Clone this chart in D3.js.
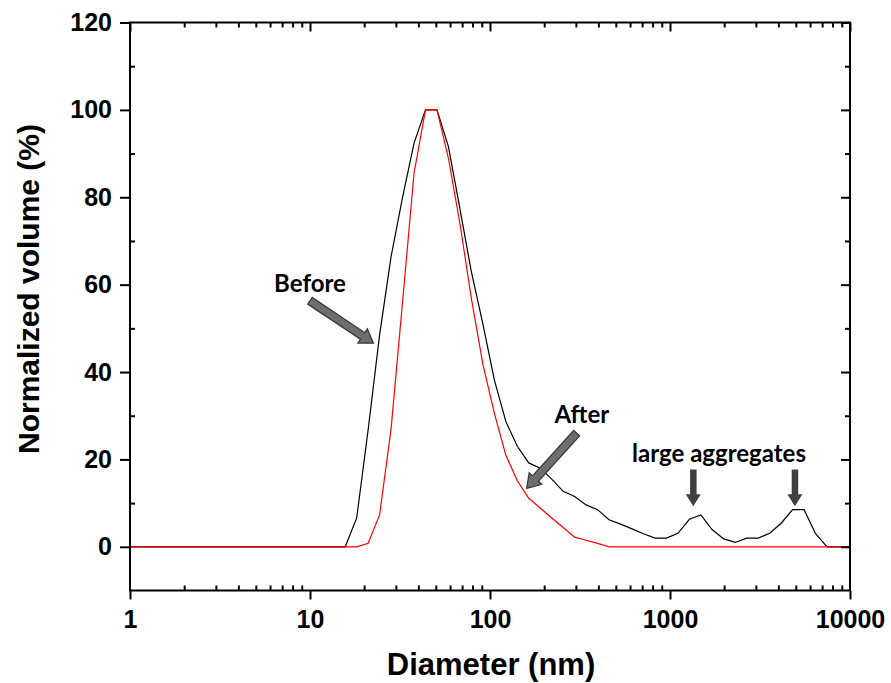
<!DOCTYPE html>
<html>
<head>
<meta charset="utf-8">
<script src="https://cdn.jsdelivr.net/npm/d3@7"></script>
<style>
  body { margin: 0; background: #fff; }
  svg { display: block; }
  .tick text { font-family: "Liberation Sans", Arial, sans-serif; font-weight: bold; font-size: 25px; fill: #000; }
</style>
</head>
<body>
<svg id="chart" width="891" height="683"></svg>
<script>
// size bins (nm) of the instrument
var diameters = [0.9649, 1.117, 1.294, 1.499, 1.736, 2.010, 2.328, 2.696, 3.122, 3.615,
  4.187, 4.849, 5.615, 6.503, 7.531, 8.721, 10.10, 11.70, 13.54, 15.69,
  18.17, 21.04, 24.36, 28.21, 32.67, 37.84, 43.82, 50.75, 58.77, 68.06,
  78.82, 91.28, 105.7, 122.4, 141.8, 164.2, 190.1, 220.2, 255.0, 295.3,
  342.0, 396.1, 458.7, 531.2, 615.1, 712.4, 825.0, 955.4, 1106, 1281,
  1484, 1718, 1990, 2305, 2669, 3091, 3580, 4145, 4801, 5560,
  6439, 7456, 8635, 10000]

var before = [0, 0, 0, 0, 0, 0, 0, 0, 0, 0,
  0, 0, 0, 0, 0, 0, 0, 0, 0, 0,
  6.6, 26.8, 48.5, 66.4, 80, 92.4, 100, 100, 91.6, 77.4,
  62.9, 51, 38.2, 28.7, 23.0, 19.2, 18, 15.5, 12.7, 11.5,
  9.6, 8.5, 6.2, 5.2, 4.1, 3.0, 2.0, 2.0, 3.1, 6.3,
  7.3, 3.9, 1.8, 1.0, 2.0, 2.0, 3.1, 5.4, 8.5, 8.5,
  3.0, 0, 0, 0]

var after = [0, 0, 0, 0, 0, 0, 0, 0, 0, 0,
  0, 0, 0, 0, 0, 0, 0, 0, 0, 0,
  0, 0.8, 7.3, 27, 56, 85.5, 100, 100, 88.9, 74,
  56.8, 41.8, 30.6, 21.0, 15.1, 11.1, 8.9, 6.6, 4.4, 2.2,
  1.5, 0.8, 0, 0, 0, 0, 0, 0, 0, 0,
  0, 0, 0, 0, 0, 0, 0, 0, 0, 0,
  0, 0, 0, 0]

var xMajor = [1, 10, 100, 1000, 10000]
var yMajor = [0, 20, 40, 60, 80, 100, 120]
var yMinor = [10, 30, 50, 70, 90, 110]

var svg = d3.select('#chart')
var mLeft = 130, mRight = 850, mTop = 22.5, mBottom = 590.5

var x = d3.scaleLog().domain([1, 10000]).range([mLeft, mRight])
var y = d3.scaleLinear().domain([-10, 120]).range([mBottom, mTop])

var xMinor = x.ticks().filter(function (d) { return xMajor.indexOf(d) < 0 })

svg.append('clipPath').attr('id', 'clip')
  .append('rect').attr('x', mLeft).attr('y', mTop).attr('width', mRight - mLeft).attr('height', mBottom - mTop)

var line = d3.line()
  .x(function (d) { return x(d[0]) })
  .y(function (d) { return y(d[1]) })

var plot = svg.append('g').attr('clip-path', 'url(#clip)')
plot.append('path')
  .datum(d3.zip(diameters, before))
  .attr('d', line)
  .attr('fill', 'none').attr('stroke', '#000').attr('stroke-width', 1.2)
plot.append('path')
  .datum(d3.zip(diameters, after))
  .attr('d', line)
  .attr('fill', 'none').attr('stroke', '#ff0000').attr('stroke-width', 1.2)

// axes
function styleAxis(g) {
  g.select('.domain').remove()
  g.selectAll('.tick line').attr('stroke', '#000').attr('stroke-width', 2)
}

svg.append('g').attr('transform', 'translate(0,' + mBottom + ')')
  .call(d3.axisBottom(x).tickValues(xMajor).tickSize(9).tickPadding(11).tickFormat(d3.format('d')))
  .call(styleAxis)
svg.append('g').attr('transform', 'translate(0,' + mBottom + ')')
  .call(d3.axisTop(x).tickValues(xMinor).tickSize(5).tickFormat(''))
  .call(styleAxis)
svg.append('g').attr('transform', 'translate(0,' + mTop + ')')
  .call(d3.axisBottom(x).tickValues(xMajor).tickSize(9).tickFormat(''))
  .call(styleAxis)
svg.append('g').attr('transform', 'translate(0,' + mTop + ')')
  .call(d3.axisBottom(x).tickValues(xMinor).tickSize(5).tickFormat(''))
  .call(styleAxis)

svg.append('g').attr('transform', 'translate(' + mLeft + ',0)')
  .call(d3.axisLeft(y).tickValues(yMajor).tickSize(10).tickPadding(8))
  .call(styleAxis)
svg.append('g').attr('transform', 'translate(' + mLeft + ',0)')
  .call(d3.axisRight(y).tickValues(yMinor).tickSize(5).tickFormat(''))
  .call(styleAxis)
svg.append('g').attr('transform', 'translate(' + mRight + ',0)')
  .call(d3.axisLeft(y).tickValues(yMajor).tickSize(9).tickFormat(''))
  .call(styleAxis)
svg.append('g').attr('transform', 'translate(' + mRight + ',0)')
  .call(d3.axisLeft(y).tickValues(yMinor).tickSize(5).tickFormat(''))
  .call(styleAxis)

svg.append('rect')
  .attr('x', mLeft).attr('y', mTop).attr('width', mRight - mLeft).attr('height', mBottom - mTop)
  .attr('fill', 'none').attr('stroke', '#000').attr('stroke-width', 2)

// axis titles
svg.append('text')
  .attr('x', 491).attr('y', 675)
  .attr('text-anchor', 'middle')
  .style('font-family', '"Liberation Sans", Arial, sans-serif')
  .style('font-weight', 'bold').style('font-size', '31px')
  .text('Diameter (nm)')
svg.append('text')
  .attr('transform', 'translate(39,289) rotate(-90)')
  .attr('text-anchor', 'middle')
  .style('font-family', '"Liberation Sans", Arial, sans-serif')
  .style('font-weight', 'bold').style('font-size', '30px')
  .text('Normalized volume (%)')

// annotations (placed in data coordinates)
function blockArrow(x1, y1, x2, y2, shaftW, headW, headL) {
  var dx = x2 - x1, dy = y2 - y1
  var len = Math.sqrt(dx * dx + dy * dy)
  var ux = dx / len, uy = dy / len
  var px = -uy, py = ux
  var bx = x2 - ux * headL, by = y2 - uy * headL
  var pts = [
    [x1 + px * shaftW / 2, y1 + py * shaftW / 2],
    [bx + px * shaftW / 2, by + py * shaftW / 2],
    [bx + px * headW / 2, by + py * headW / 2],
    [x2, y2],
    [bx - px * headW / 2, by - py * headW / 2],
    [bx - px * shaftW / 2, by - py * shaftW / 2],
    [x1 - px * shaftW / 2, y1 - py * shaftW / 2]
  ]
  return 'M' + pts.map(function (p) { return p[0].toFixed(1) + ',' + p[1].toFixed(1) }).join('L') + 'Z'
}

var labels = [
  { text: 'Before', d: 10, v: 58.3 },
  { text: 'After', d: 324, v: 28.3 },
  { text: 'large aggregates', d: 1872, v: 19.4 }
]
var slantArrows = [
  { d1: 10, v1: 56.3, d2: 22.5, v2: 46.6 },
  { d1: 303, v1: 26, d2: 160, v2: 13.4 }
]
var downArrows = [
  { d: 1348, v1: 17.7, v2: 9.3 },
  { d: 4945, v1: 17.7, v2: 9.3 }
]

svg.selectAll('.lbl').data(labels).enter().append('text')
  .attr('class', 'lbl')
  .attr('x', function (d) { return x(d.d) })
  .attr('y', function (d) { return y(d.v) })
  .attr('text-anchor', 'middle')
  .style('font-family', 'Lato, "Open Sans", sans-serif')
  .style('font-weight', 'bold').style('font-size', '24px')
  .text(function (d) { return d.text })

svg.selectAll('.sarrow').data(slantArrows).enter().append('path')
  .attr('class', 'sarrow')
  .attr('d', function (a) { return blockArrow(x(a.d1), y(a.v1), x(a.d2), y(a.v2), 8, 17, 13) })
  .attr('fill', '#6e6e6e').attr('stroke', '#3a3a3a').attr('stroke-width', 1.3)

svg.selectAll('.darrow').data(downArrows).enter().append('path')
  .attr('class', 'darrow')
  .attr('d', function (a) { return blockArrow(x(a.d), y(a.v1), x(a.d), y(a.v2), 6.5, 15, 12) })
  .attr('fill', '#404040')
</script>
</body>
</html>
